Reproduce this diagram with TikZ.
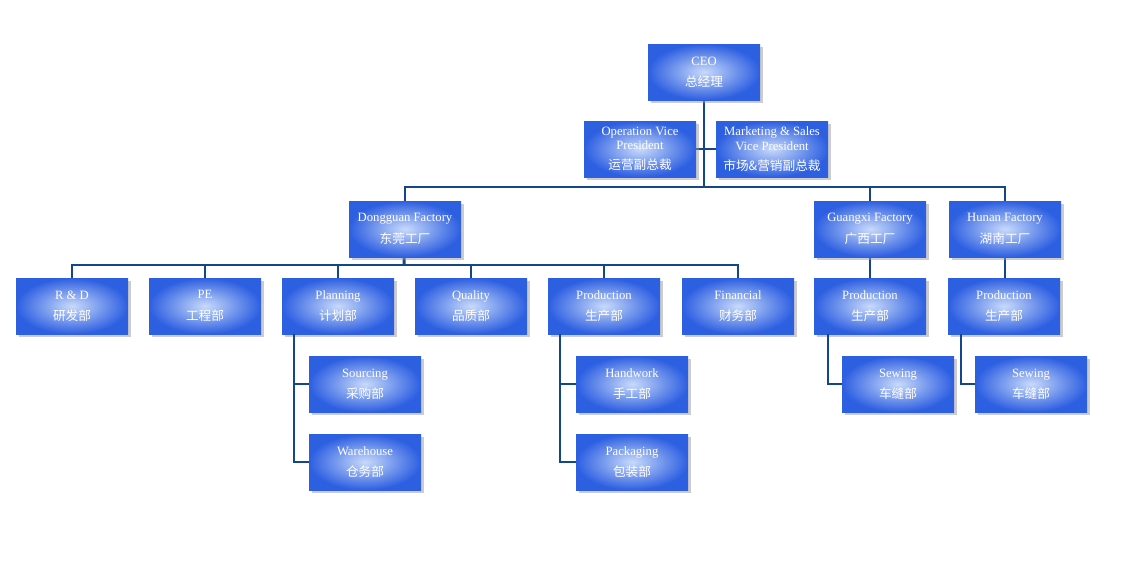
\documentclass[tikz,border=0pt]{standalone}
\usepackage{fontspec}
\setmainfont{Liberation Serif}
\newfontfamily\cjk{Noto Sans CJK SC}
\usetikzlibrary{shadows}
\definecolor{boxblue}{RGB}{45,95,225}
\definecolor{boxlight}{RGB}{200,218,250}
\definecolor{linkblue}{RGB}{20,70,140}

\begin{document}
\begin{tikzpicture}[x=0.75pt,y=-0.75pt,
    unit/.style = {rectangle, minimum width=84pt, minimum height=42pt, inner sep=1pt,
      inner color=boxlight, outer color=boxblue, text=white, align=center,
      font=\fontsize{9.5}{11}\selectfont,
      drop shadow={shadow xshift=2pt, shadow yshift=-2.5pt, fill=black!40, opacity=.5}},
    link/.style = {draw=linkblue, line width=2.2pt}]
            \useasboundingbox (0,0) rectangle (1131,579);
            % connector points
            \coordinate (top) at (704,187);
            \coordinate (mid) at (404,265);
            \coordinate (planx) at (294,384);
            \coordinate (prodx) at (560,384);
            \coordinate (gxx) at (828,384);
            \coordinate (hnx) at (961,384);

            \draw[link] (704,72) -- (top);
            \draw[link] (640,149) -- (772,149);
            \draw[link] (405,229) |- (top) -| (1005,229);
            \draw[link] (870,229) -- (870,187);
            \draw[link] (405,229) -- (mid);
            \draw[link] (72,306) |- (mid) -| (738,306);
            \foreach \x in {205,338,471,604}
              \draw[link] (\x,306) -- (\x,265);
            \draw[link] (870,229) -- (870,306);
            \draw[link] (1005,229) -- (1005,306);

            \node[unit] (ceo) at (704,72) {CEO\\[5pt]{\cjk 总经理}};
            \node[unit] (opvp) at (640,149) {Operation Vice\\President\\[4pt]{\cjk 运营副总裁}};
            \node[unit] (mkvp) at (772,149) {Marketing \& Sales\\Vice President\\[4pt]{\cjk 市场\&营销副总裁}};
            \node[unit] (dg) at (405,229) {Dongguan Factory\\[5pt]{\cjk 东莞工厂}};
            \node[unit] (gx) at (870,229) {Guangxi Factory\\[5pt]{\cjk 广西工厂}};
            \node[unit] (hn) at (1005,229) {Hunan Factory\\[5pt]{\cjk 湖南工厂}};
            \node[unit] (rd) at (72,306) {R \& D\\[5pt]{\cjk 研发部}};
            \node[unit] (pe) at (205,306) {PE\\[5pt]{\cjk 工程部}};
            \node[unit] (plan) at (338,306) {Planning\\[5pt]{\cjk 计划部}};
            \node[unit] (qual) at (471,306) {Quality\\[5pt]{\cjk 品质部}};
            \node[unit] (prod) at (604,306) {Production\\[5pt]{\cjk 生产部}};
            \node[unit] (fin) at (738,306) {Financial\\[5pt]{\cjk 财务部}};
            \node[unit] (gxprod) at (870,306) {Production\\[5pt]{\cjk 生产部}};
            \node[unit] (hnprod) at (1004,306) {Production\\[5pt]{\cjk 生产部}};
            \node[unit] (src) at (365,384) {Sourcing\\[5pt]{\cjk 采购部}};
            \node[unit] (wh) at (365,462) {Warehouse\\[5pt]{\cjk 仓务部}};
            \node[unit] (hand) at (632,384) {Handwork\\[5pt]{\cjk 手工部}};
            \node[unit] (pack) at (632,462) {Packaging\\[5pt]{\cjk 包装部}};
            \node[unit] (gxsew) at (898,384) {Sewing\\[5pt]{\cjk 车缝部}};
            \node[unit] (hnsew) at (1031,384) {Sewing\\[5pt]{\cjk 车缝部}};

            \draw[link] (plan.south -| planx) |- (wh.west);
            \draw[link] (planx) -- (src.west);
            \draw[link] (prod.south -| prodx) |- (pack.west);
            \draw[link] (prodx) -- (hand.west);
            \draw[link] (gxprod.south -| gxx) |- (gxsew.west);
            \draw[link] (hnprod.south -| hnx) |- (hnsew.west);
        \end{tikzpicture}
\end{document}
